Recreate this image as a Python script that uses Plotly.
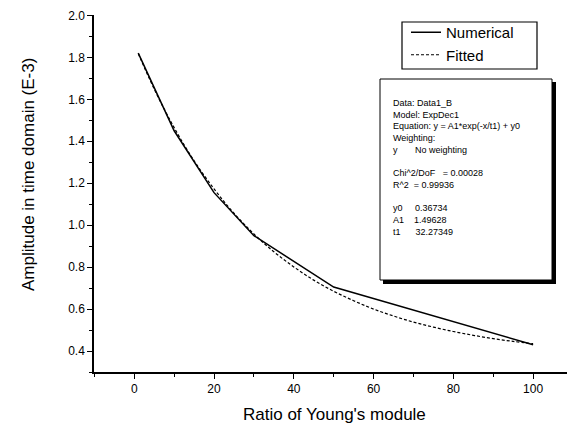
import plotly.graph_objects as go

# Numerical results
num_x = [1, 10, 20, 30, 50, 100]
num_y = [1.82, 1.45, 1.155, 0.95, 0.705, 0.43]

# Fitted curve
fit_x = [1, 5, 10, 15, 20, 25, 30, 35, 40, 45, 50, 55, 60, 65, 70, 75, 80, 85, 90, 95, 100]
fit_y = [1.818, 1.649, 1.465, 1.307, 1.173, 1.057, 0.958, 0.873, 0.801, 0.738, 0.685,
         0.640, 0.600, 0.567, 0.538, 0.514, 0.493, 0.475, 0.459, 0.446, 0.435]

NB = "\u00a0"
stats_lines = [
    "Data: Data1_B",
    "Model: ExpDec1",
    "Equation: y = A1*exp(-x/t1) + y0",
    "Weighting:",
    "y" + NB * 7 + "No weighting",
    "",
    "Chi^2/DoF" + NB * 3 + "= 0.00028",
    "R^2" + NB * 2 + "= 0.99936",
    "",
    "y0" + NB * 5 + "0.36734",
    "A1" + NB * 4 + "1.49628",
    "t1" + NB * 6 + "32.27349",
]

W, H = 567, 428
L, R, T, B = 94, 0, 15, 56
pw, ph = W - L - R, H - T - B

def px(x):
    return (x - L) / pw

def py(y):
    return (H - B - y) / ph

FONT = "Liberation Sans, Arial, sans-serif"

fig = go.Figure()
fig.add_trace(go.Scatter(x=num_x, y=num_y, mode="lines", name="Numerical",
                         line=dict(color="black", width=1.5)))
fig.add_trace(go.Scatter(x=fit_x, y=fit_y, mode="lines", name="Fitted",
                         line=dict(color="black", width=1.2, dash="3px,2px"),
                         line_shape="spline"))

axis_common = dict(showline=True, linecolor="black", linewidth=1.5, ticks="outside",
                   tickcolor="black", tickwidth=1.2, ticklen=5, showgrid=False,
                   zeroline=False, tickfont=dict(family=FONT, size=12, color="black"))

fig.update_xaxes(range=[-10.1, 108.5], tick0=0, dtick=20,
                 minor=dict(ticks="outside", ticklen=3, dtick=10, tick0=0, tickcolor="black"),
                 **axis_common)
fig.update_yaxes(range=[0.3, 2.002], tick0=0.4, dtick=0.2, tickformat=".1f",
                 minor=dict(ticks="outside", ticklen=3, dtick=0.1, tick0=0.3, tickcolor="black"),
                 **axis_common)

shapes = []
# legend frame
shapes.append(dict(type="rect", xref="paper", yref="paper",
                   x0=px(402), x1=px(537), y0=py(69), y1=py(22),
                   fillcolor="rgba(0,0,0,0)", line=dict(color="black", width=1.2), layer="above"))
# stats box shadow and box
shapes.append(dict(type="rect", xref="paper", yref="paper",
                   x0=px(383), x1=px(556), y0=py(284), y1=py(82),
                   fillcolor="black", line=dict(width=0), layer="above"))
shapes.append(dict(type="rect", xref="paper", yref="paper",
                   x0=px(380), x1=px(552), y0=py(280), y1=py(79),
                   fillcolor="white", line=dict(color="black", width=1), layer="above"))
fig.update_layout(shapes=shapes)

ann = []
ann.append(dict(text="<br>".join(stats_lines), x=px(392), y=py(97), xref="paper", yref="paper",
                xanchor="left", yanchor="top", align="left", showarrow=False, borderpad=0,
                font=dict(family=FONT, size=9, color="black")))

ann.append(dict(text="Ratio of Young's module", x=px(334), y=py(414), xref="paper", yref="paper",
                xanchor="center", yanchor="middle", showarrow=False,
                font=dict(family=FONT, size=17, color="black")))
ann.append(dict(text="Amplitude in time domain (E-3)", x=px(28), y=py(175), xref="paper", yref="paper",
                xanchor="center", yanchor="middle", showarrow=False, textangle=-90,
                font=dict(family=FONT, size=17, color="black")))

fig.update_layout(
    width=W, height=H,
    margin=dict(l=L, r=R, t=T, b=B),
    paper_bgcolor="white", plot_bgcolor="white",
    annotations=ann,
    legend=dict(x=px(406), y=py(16), xanchor="left", yanchor="top",
                borderwidth=0, bgcolor="rgba(0,0,0,0)",
                font=dict(family=FONT, size=15, color="black"),
                tracegroupgap=0),
)

fig.write_html("out.html", config={"displayModeBar": False},
               post_script="document.body.style.margin='0';")
